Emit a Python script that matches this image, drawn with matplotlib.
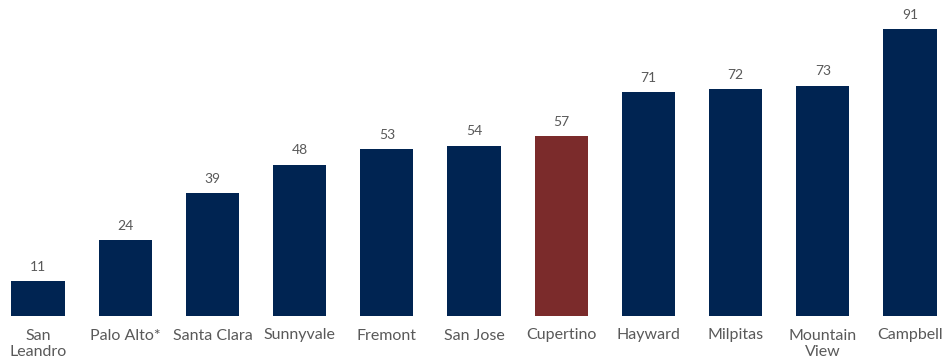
import matplotlib
matplotlib.use("Agg")
import matplotlib.pyplot as plt

cities = ["San\nLeandro", "Palo Alto*", "Santa Clara", "Sunnyvale", "Fremont",
          "San Jose", "Cupertino", "Hayward", "Milpitas", "Mountain\nView", "Campbell"]
values = [11, 24, 39, 48, 53, 54, 57, 71, 72, 73, 91]
highlight = "Cupertino"

navy = "#002452"
red = "#7B2B2B"
gray = "#595959"

plt.rcParams["font.family"] = ["Lato", "DejaVu Sans"]

fig = plt.figure(figsize=(9.47, 3.62), dpi=100)
ax = fig.add_axes([0, 46 / 362, 1, 316 / 362])

x = list(range(len(cities)))
colors = [red if c == highlight else navy for c in cities]
bars = ax.bar(x, values, width=0.61, color=colors)

for b, v in zip(bars, values):
    ax.annotate(str(v), (b.get_x() + b.get_width() / 2, v),
                xytext=(0, 6), textcoords="offset points",
                ha="center", va="bottom", fontsize=10, color=gray)

ax.set_xticks(x)
ax.set_xticklabels(cities, fontsize=11.5, color=gray, linespacing=1.2)
ax.tick_params(axis="x", length=0, pad=9)
ax.set_yticks([])
ax.set_xlim(-0.436, 10.424)
ax.set_ylim(0, 100.2)
for s in ax.spines.values():
    s.set_visible(False)

fig.savefig("out.png", dpi=100)
